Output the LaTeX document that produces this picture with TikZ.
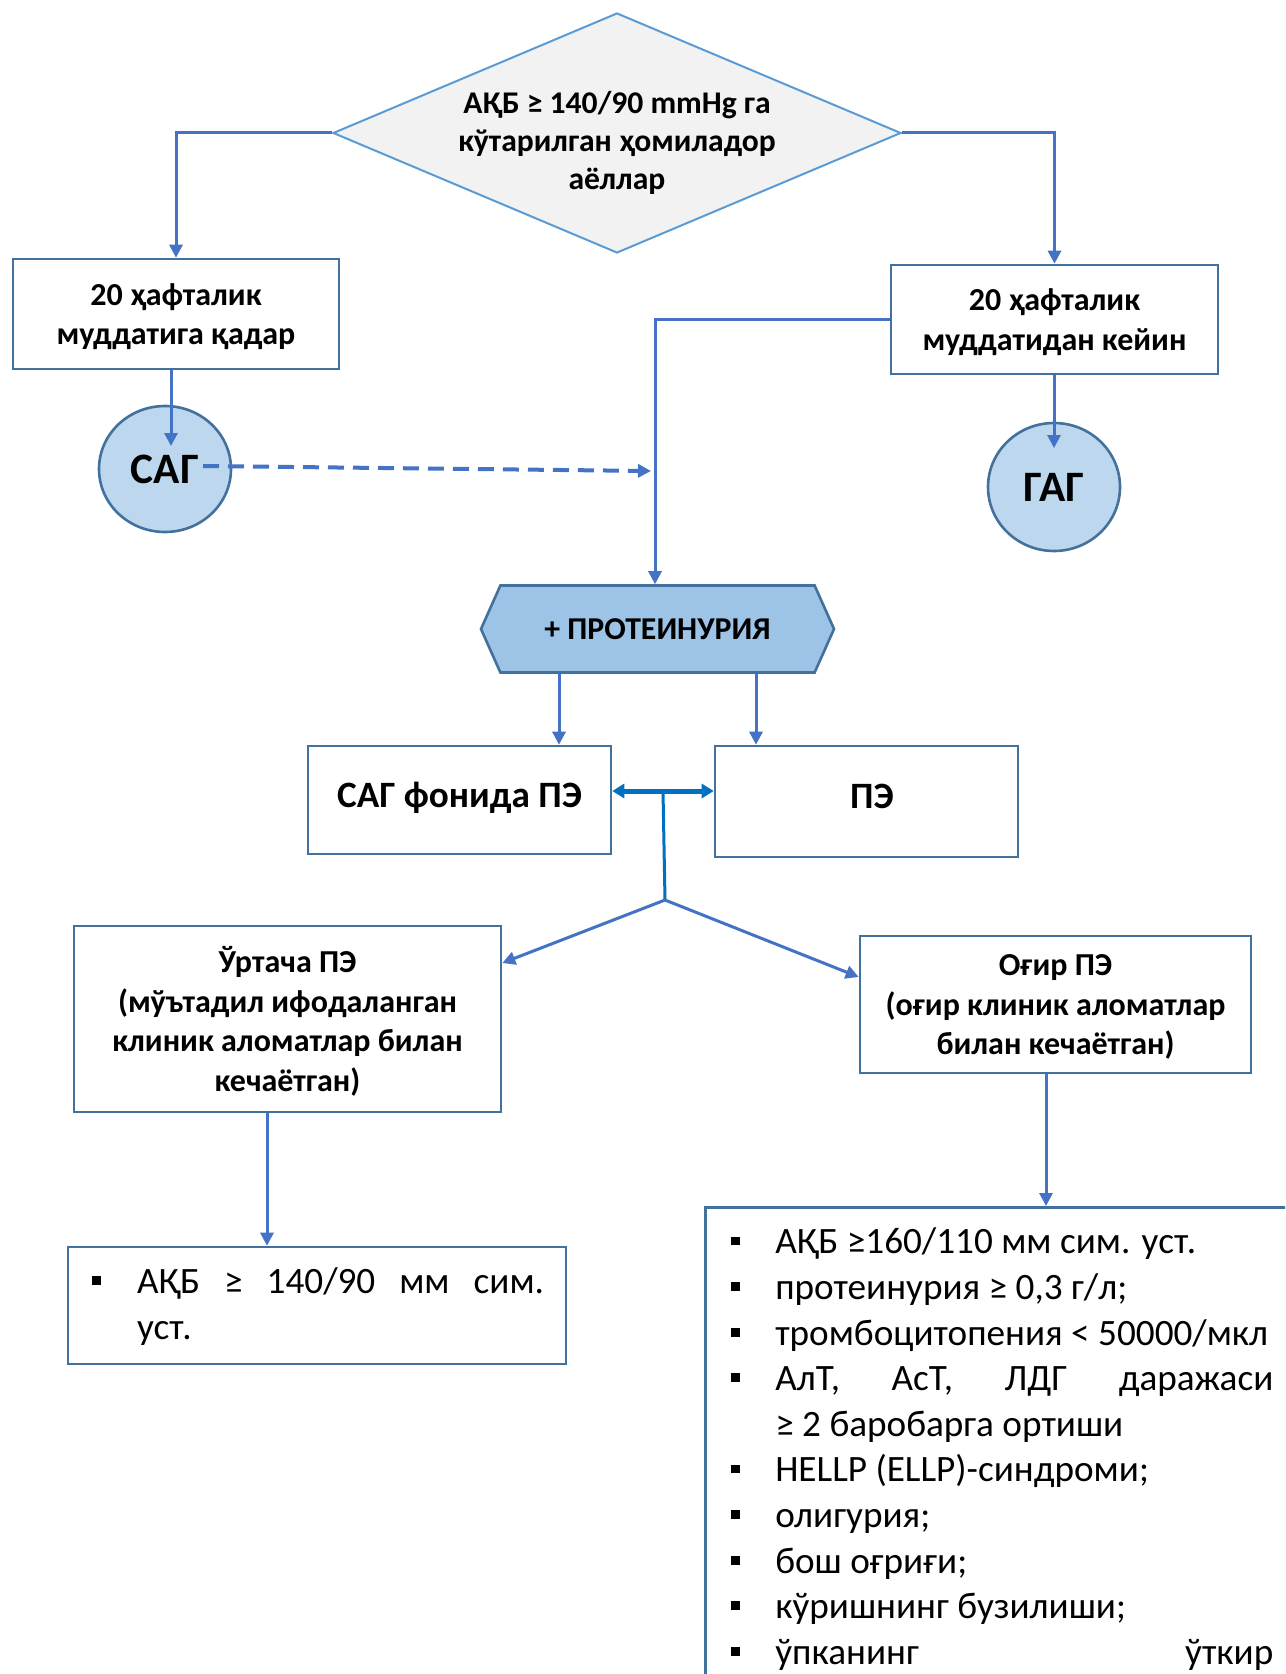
\documentclass[tikz,border=0pt]{standalone}
\usepackage{fontspec}
\setmainfont{Carlito}
\usepackage{enumitem}
\usetikzlibrary{shapes.geometric,shapes.symbols,arrows.meta,calc}

\definecolor{lineblue}{HTML}{4472C4}
\definecolor{boxblue}{HTML}{41719C}
\definecolor{diaedge}{HTML}{5B9BD5}
\definecolor{diafill}{HTML}{F2F2F2}
\definecolor{circfill}{HTML}{BDD7EE}
\definecolor{hexfill}{HTML}{9DC3E6}
\definecolor{dblblue}{HTML}{0070C0}

\newcommand\sqbullet{\rule[4.3pt]{4.4pt}{4.4pt}}
\setlist[itemize]{label=\sqbullet,labelwidth=4.4pt,topsep=0pt,itemsep=0pt,parsep=0pt,partopsep=0pt}

\begin{document}
\begin{tikzpicture}[x=0.5pt,y=-0.5pt,
  plainbox/.style={draw=boxblue,line width=1.3pt,fill=white,inner sep=0pt,align=center},
  boldtxt/.style={font=\fontsize{16}{19.75}\selectfont\bfseries,text depth=0pt},
  circ/.style={ellipse,draw=boxblue,line width=1.3pt,fill=circfill,inner sep=0pt,
    font=\fontsize{21.7}{25}\selectfont\bfseries},
  arr/.style={draw=lineblue,line width=1.5pt,-{Triangle[length=6.5pt,width=6.5pt]}},
  lst/.style={plainbox,align=justify,inner ysep=0pt,text height=0.5pt,
    font=\fontsize{18.6}{22.8}\selectfont}]

  \useasboundingbox (0,0) rectangle (1285,1674);
  \clip (0,0) rectangle (1285,1674);

  %% decision
  \node[diamond,aspect=2.37,draw=diaedge,line width=1pt,fill=diafill,inner sep=-6pt,
    minimum width=284pt,minimum height=120pt,align=center,
    font=\fontsize{15.8}{19}\selectfont\bfseries,text height=59pt] (dia) at (617,133)
    {АҚБ ≥ 140/90 mmHg га\\кўтарилган ҳомиладор\\аёллар};

  %% terms
  \node[plainbox,boldtxt,minimum width=163pt,minimum height=55pt] (lbox) at (176,314)
    {20 ҳафталик\\муддатига қадар};
  \node[plainbox,boldtxt,minimum width=163.5pt,minimum height=54.5pt] (rbox) at (1054.5,319.5)
    {20 ҳафталик\\муддатидан кейин};
  \node[circ,minimum width=66pt,minimum height=63pt] (sag) at (165,469) {САГ};
  \node[circ,minimum width=66pt,minimum height=64pt] (gag) at (1054,487) {ГАГ};

  %% proteinuria
  \node[signal,signal to=west and east,signal pointer angle=132,draw=boxblue,line width=1.3pt,
    fill=hexfill,inner sep=0pt,minimum width=176.5pt,minimum height=43.5pt,
    font=\fontsize{15.9}{19}\selectfont\bfseries] (prot) at (657.5,629) {+ ПРОТЕИНУРИЯ};
  \node[plainbox,minimum width=151.5pt,minimum height=54pt,text depth=5.4pt,
    font=\fontsize{18.6}{23}\selectfont\bfseries] (sagpe) at (459.5,800) {САГ фонида ПЭ};
  \node[plainbox,minimum width=151.5pt,minimum height=55.5pt,text depth=5.4pt,
    font=\fontsize{18.6}{23}\selectfont\bfseries] (pe) at (866.5,801.5) {\hspace*{5.4pt}ПЭ};

  %% degree
  \node[plainbox,boldtxt,minimum width=213.5pt,minimum height=93pt] (mbox) at (287.5,1019)
    {Ўртача ПЭ\\(мўътадил ифодаланган\\клиник аломатлар билан\\кечаётган)};
  \node[plainbox,boldtxt,minimum width=195.5pt,minimum height=68.5pt] (sbox) at (1055.5,1004.5)
    {Оғир ПЭ\\(оғир клиник аломатлар\\билан кечаётган)};

  %% signs
  \node[lst,inner xsep=11pt,text width=227pt,text depth=58pt]
    (list1) at (317,1305.5)
    {\begin{itemize}[leftmargin=23.5pt,labelsep=18.1pt]
      \item АҚБ ≥ 140/90 мм сим.\linebreak уст.
    \end{itemize}};
  \node[lst,anchor=north west,inner xsep=0pt,text width=320pt,text depth=260pt]
    (list2) at (704,1206)
    {\begin{itemize}[leftmargin=35pt,labelsep=17.6pt,rightmargin=36pt]
      \item АҚБ ≥160/110 мм сим. уст.
      \item протеинурия ≥ 0,3 г/л;
      \item тромбоцитопения < 50000/мкл
      \item АлТ, АсТ, ЛДГ даражаси\linebreak ≥ 2 баробарга ортиши
      \item HELLP (ELLP)-синдроми;
      \item олигурия;
      \item бош оғриғи;
      \item кўришнинг бузилиши;
      \item ўпканинг\hfill ўткир
    \end{itemize}};

  %% connectors
  \draw[arr] (dia.west) -| (lbox.north);
  \draw[arr] (dia.east) -| (rbox.north);
  \coordinate (sagin) at ([shift={(3pt,11.5pt)}]sag.center);
  \draw[arr] (lbox.south -| sagin) -- (sagin);
  \coordinate (gagin) at ([yshift=19.5pt]gag.center);
  \draw[arr] (rbox.south -| gagin) -- (gagin);
  \draw[arr] (rbox.west) -| ([xshift=-1.25pt]prot.north);
  \coordinate (sagout) at ([shift={(19pt,1.5pt)}]sag.center);
  \coordinate (joinpt) at (651,471);
  \draw[arr,line width=2pt,dash pattern=on 8pt off 4.5pt] (sagout) -- (joinpt);

  \draw[arr] ([xshift=-49.25pt]prot.south) -- ([xshift=-49.25pt]prot.south |- sagpe.north);
  \draw[arr] ([xshift=49.25pt]prot.south) -- ([xshift=49.25pt]prot.south |- pe.north);

  \draw[dblblue,line width=2.5pt,{Triangle[length=6pt,width=7pt]}-{Triangle[length=6pt,width=7pt]}]
    ([yshift=4.5pt]sagpe.east) -- ([yshift=4.5pt]sagpe.east -| pe.west);
  \coordinate (midpt) at ($([yshift=4.5pt]sagpe.east)!0.5!([yshift=4.5pt]sagpe.east -| pe.west)$);
  \coordinate (fork) at (665,900);
  \draw[dblblue,line width=1.5pt] (midpt) -- (fork);
  \draw[arr] (fork) -- ([yshift=28pt]mbox.east);
  \draw[arr] (fork) -- ([yshift=13.75pt]sbox.west);

  \draw[arr] ([xshift=-10.25pt]mbox.south) -- ([xshift=-10.25pt]mbox.south |- list1.north);
  \draw[arr] ([xshift=-4.75pt]sbox.south) -- ([xshift=-4.75pt]sbox.south |- list2.north);

\end{tikzpicture}
\end{document}
